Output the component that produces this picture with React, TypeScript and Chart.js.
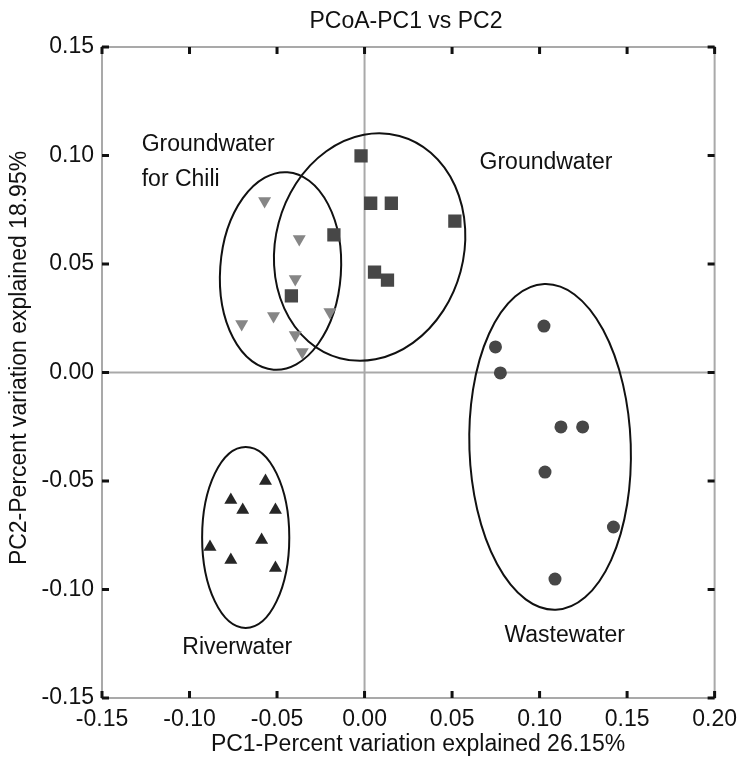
import { useEffect, useRef } from 'react';
import { Chart, registerables } from 'chart.js';

Chart.register(...registerables);

// ---- axis ticks ----
const X_TICKS = [-0.15, -0.1, -0.05, 0, 0.05, 0.1, 0.15, 0.2];
const Y_TICKS = [-0.15, -0.1, -0.05, 0, 0.05, 0.1, 0.15];

// ---- series values ----
const GW_X = [-0.002, 0.0035, 0.0153, 0.0516, -0.0175, 0.0057, 0.0131, -0.0418];
const GW_Y = [0.0998, 0.078, 0.078, 0.0698, 0.0634, 0.0463, 0.0426, 0.0353];

const CHILI_X = [-0.0571, -0.0373, -0.0396, -0.0702, -0.052, -0.0198, -0.0396, -0.0356];
const CHILI_Y = [0.079, 0.0615, 0.0431, 0.0224, 0.026, 0.0279, 0.0173, 0.0094];

const WW_X = [0.1025, 0.0748, 0.0776, 0.1122, 0.1246, 0.1031, 0.1422, 0.1088];
const WW_Y = [0.0214, 0.0118, -0.0002, -0.0251, -0.0251, -0.0459, -0.0712, -0.0952];

const RW_X = [-0.0566, -0.0764, -0.0696, -0.0509, -0.0588, -0.0883, -0.0764, -0.0509];
const RW_Y = [-0.05, -0.0588, -0.0634, -0.0634, -0.0772, -0.0804, -0.0864, -0.0901];

// ---- group ellipses (data units) ----
const ELLIPSE_CX = [-0.048, 0.0029, 0.106, -0.0679];
const ELLIPSE_CY = [0.0468, 0.0578, -0.0343, -0.076];
const ELLIPSE_RX = [0.0345, 0.0538, 0.0461, 0.0249];
const ELLIPSE_RY = [0.0456, 0.053, 0.0751, 0.0417];
const ELLIPSE_ROT = [4, 15, -2, 0];

// ---- group labels ----
const LABEL_TEXT = ['Groundwater', 'for Chili', 'Groundwater', 'Riverwater', 'Wastewater'];
const LABEL_X = [-0.1273, -0.1273, 0.0657, -0.1041, 0.0799];
const LABEL_Y = [0.1048, 0.0887, 0.0965, -0.127, -0.1214];

const TITLE = 'PCoA-PC1 vs PC2';
const X_TITLE = 'PC1-Percent variation explained 26.15%';
const Y_TITLE = 'PC2-Percent variation explained 18.95%';

const FONT = '"Liberation Sans", Arial, Helvetica, sans-serif';

const pts = (xs: number[], ys: number[]) => xs.map((x, i) => ({ x, y: ys[i] }));

const fmt = (v: number) => (Math.abs(v) < 1e-9 ? '0.00' : v.toFixed(2));

const decor = {
  id: 'decor',
  beforeDatasetsDraw(chart: any) {
    const { ctx, chartArea: a, scales } = chart;
    const x = scales.x;
    const y = scales.y;
    ctx.save();
    // zero lines + frame
    ctx.strokeStyle = '#a9a9a9';
    ctx.lineWidth = 2;
    const x0 = x.getPixelForValue(0);
    const y0 = y.getPixelForValue(0);
    ctx.beginPath();
    ctx.moveTo(x0, a.top);
    ctx.lineTo(x0, a.bottom);
    ctx.moveTo(a.left, y0);
    ctx.lineTo(a.right, y0);
    ctx.stroke();
    ctx.strokeRect(a.left, a.top, a.right - a.left, a.bottom - a.top);
    // inward ticks on all four sides
    ctx.strokeStyle = '#111';
    ctx.lineWidth = 3;
    ctx.beginPath();
    const L = 7;
    for (const v of X_TICKS) {
      const px = x.getPixelForValue(v);
      ctx.moveTo(px, a.bottom);
      ctx.lineTo(px, a.bottom - L);
      ctx.moveTo(px, a.top);
      ctx.lineTo(px, a.top + L);
    }
    for (const v of Y_TICKS) {
      const py = y.getPixelForValue(v);
      ctx.moveTo(a.left, py);
      ctx.lineTo(a.left + L, py);
      ctx.moveTo(a.right, py);
      ctx.lineTo(a.right - L, py);
    }
    ctx.stroke();
    // ellipses
    ctx.strokeStyle = '#111';
    ctx.lineWidth = 2;
    for (let i = 0; i < ELLIPSE_CX.length; i++) {
      const cx = x.getPixelForValue(ELLIPSE_CX[i]);
      const cy = y.getPixelForValue(ELLIPSE_CY[i]);
      const rx = Math.abs(x.getPixelForValue(ELLIPSE_CX[i] + ELLIPSE_RX[i]) - cx);
      const ry = Math.abs(y.getPixelForValue(ELLIPSE_CY[i] + ELLIPSE_RY[i]) - cy);
      ctx.beginPath();
      ctx.ellipse(cx, cy, rx, ry, (ELLIPSE_ROT[i] * Math.PI) / 180, 0, Math.PI * 2);
      ctx.stroke();
    }
    ctx.restore();
  },
  afterDraw(chart: any) {
    const { ctx, scales } = chart;
    const x = scales.x;
    const y = scales.y;
    ctx.save();
    ctx.fillStyle = '#111';
    ctx.font = `23px ${FONT}`;
    ctx.textBaseline = 'middle';
    ctx.textAlign = 'left';
    for (let i = 0; i < LABEL_TEXT.length; i++) {
      ctx.fillText(LABEL_TEXT[i], x.getPixelForValue(LABEL_X[i]), y.getPixelForValue(LABEL_Y[i]));
    }
    ctx.textAlign = 'center';
    ctx.fillText(TITLE, 406, 22);
    ctx.fillText(X_TITLE, 418, 745);
    ctx.translate(20, 358);
    ctx.rotate(-Math.PI / 2);
    ctx.fillText(Y_TITLE, 0, 0);
    ctx.restore();
  },
};

export default function App() {
  const ref = useRef<HTMLCanvasElement | null>(null);
  useEffect(() => {
    if (!ref.current) return;
    const chart = new Chart(ref.current, {
      type: 'scatter',
      data: {
        datasets: [
          {
            label: 'Groundwater',
            data: pts(GW_X, GW_Y),
            pointStyle: 'rect',
            pointRadius: 9.4,
            backgroundColor: '#474747',
            borderColor: '#474747',
            borderWidth: 0,
          },
          {
            label: 'Groundwater for Chili',
            data: pts(CHILI_X, CHILI_Y),
            pointStyle: 'triangle',
            rotation: 180,
            pointRadius: 7.5,
            backgroundColor: '#868686',
            borderColor: '#868686',
            borderWidth: 0,
          },
          {
            label: 'Wastewater',
            data: pts(WW_X, WW_Y),
            pointStyle: 'circle',
            pointRadius: 6.5,
            backgroundColor: '#474747',
            borderColor: '#474747',
            borderWidth: 0,
          },
          {
            label: 'Riverwater',
            data: pts(RW_X, RW_Y),
            pointStyle: 'triangle',
            pointRadius: 7.5,
            backgroundColor: '#262626',
            borderColor: '#262626',
            borderWidth: 0,
          },
        ],
      } as any,
      options: {
        animation: false,
        responsive: false,
        devicePixelRatio: 1,
        layout: { padding: { top: 47, right: 25, left: 0, bottom: 0 } },
        plugins: { legend: { display: false }, tooltip: { enabled: false }, title: { display: false } },
        scales: {
          x: {
            type: 'linear',
            min: -0.15,
            max: 0.2,
            grid: { display: false, drawTicks: false },
            border: { display: false },
            ticks: {
              stepSize: 0.05,
              padding: 8,
              color: '#111',
              font: { size: 23, family: FONT },
              callback: (v: any) => fmt(Number(v)),
              maxRotation: 0,
              autoSkip: false,
            },
            afterFit: (s: any) => {
              s.height = 73;
            },
          },
          y: {
            type: 'linear',
            min: -0.15,
            max: 0.15,
            grid: { display: false, drawTicks: false },
            border: { display: false },
            ticks: {
              stepSize: 0.05,
              padding: 8,
              color: '#111',
              font: { size: 23, family: FONT },
              callback: (v: any) => fmt(Number(v)),
              autoSkip: false,
            },
            afterFit: (s: any) => {
              s.width = 102;
            },
          },
        },
      } as any,
      plugins: [decor],
    });
    return () => chart.destroy();
  }, []);
  return (
    <div style={{ position: 'fixed', left: 0, top: 0, width: 745, height: 771, background: '#fff' }}>
      <canvas ref={ref} width={745} height={771} />
    </div>
  );
}
